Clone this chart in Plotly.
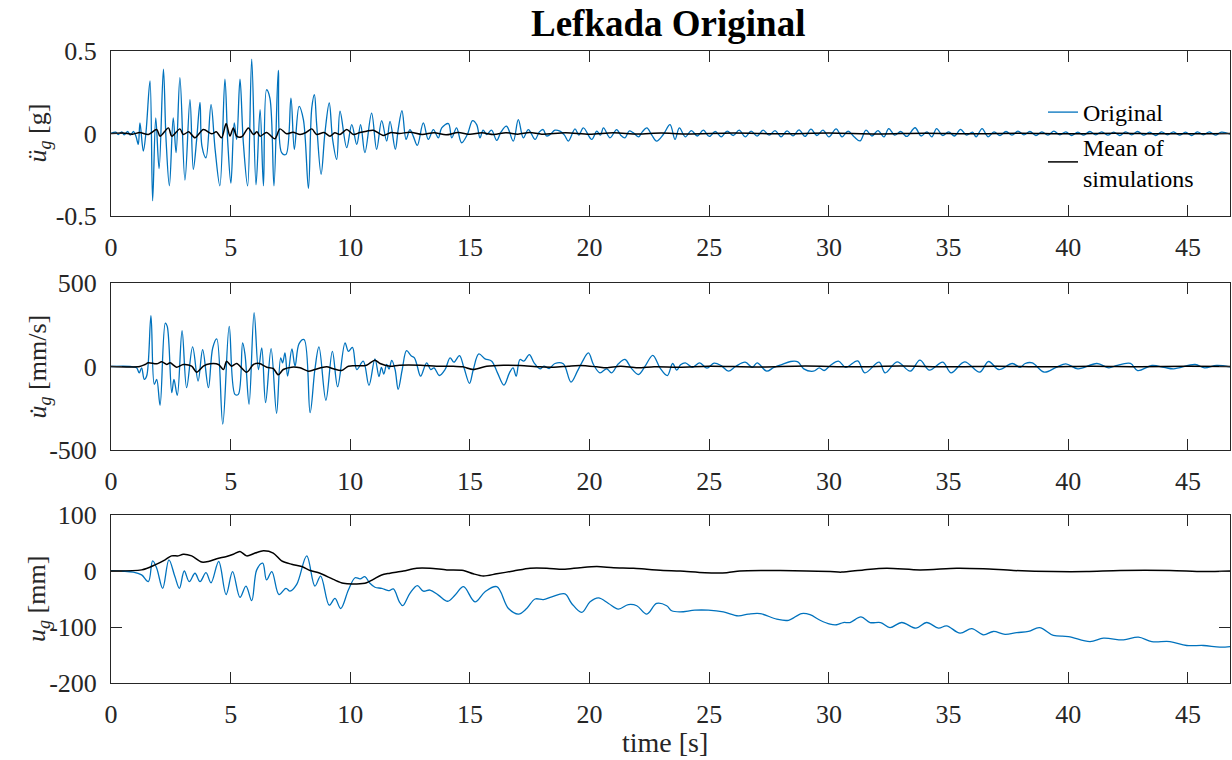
import plotly.graph_objects as go

# ---------------- data (time [s], value) ----------------
acc_orig = [
    (0, 0), (0.2, 0.008), (0.3, -0.006), (0.45, 0.01), (0.55, -0.008), (0.7, 0.012), (0.8, -0.01),
    (0.95, 0.012), (1.05, -0.02), (1.14, -0.066), (1.21, 0.064), (1.35, -0.106), (1.46, 0.004),
    (1.63, 0.319), (1.74, -0.408), (1.87, 0.094), (2.01, -0.213), (2.19, 0.39), (2.30, -0.036),
    (2.44, -0.317), (2.60, 0.094), (2.72, -0.116), (2.88, 0.339), (3.09, -0.283), (3.30, 0.205),
    (3.44, -0.217), (3.58, -0.036), (3.72, 0.189), (3.80, -0.076), (3.97, -0.147), (4.18, 0.175),
    (4.35, -0.096), (4.55, -0.317), (4.76, 0.329), (4.88, -0.056), (5.01, -0.301), (5.15, 0.064),
    (5.25, -0.036), (5.39, 0.329), (5.53, -0.056), (5.71, -0.317), (5.88, 0.45), (6.06, -0.311),
    (6.23, 0.145), (6.37, -0.317), (6.50, 0.265), (6.64, 0.215), (6.81, -0.317), (6.99, 0.382),
    (7.13, -0.116), (7.31, -0.127), (7.52, 0.215), (7.66, -0.096), (7.86, 0.165), (8.04, 0.084),
    (8.25, -0.333), (8.39, 0.155), (8.50, 0.235), (8.59, 0.064), (8.78, -0.247), (8.94, 0.004),
    (9.12, 0.185), (9.26, -0.036), (9.43, -0.157), (9.57, 0.135), (9.85, -0.086), (10.06, 0.054),
    (10.27, -0.066), (10.43, 0.054), (10.61, -0.116), (10.89, 0.124), (11.10, -0.096), (11.31, 0.078),
    (11.52, -0.046), (11.66, 0.074), (11.88, -0.096), (12.0, 0.024), (12.16, 0.139), (12.33, -0.036),
    (12.49, 0.024), (12.63, -0.016), (12.80, -0.072), (13.05, 0.064), (13.26, -0.036), (13.47, 0.024),
    (13.68, -0.026), (13.82, 0.034), (14.1, 0.06), (14.24, -0.026), (14.44, 0.034), (14.65, -0.056),
    (14.89, -0.006), (15.11, 0.078), (15.28, 0.054), (15.42, -0.026), (15.55, 0.02), (15.70, -0.006),
    (15.9, 0.02), (16.12, -0.042), (16.3, 0.01), (16.53, 0.044), (16.81, -0.046), (17.02, 0.084),
    (17.23, -0.026), (17.44, 0.024), (17.72, -0.036), (17.9, 0.01), (18.06, 0.024), (18.2, -0.015),
    (18.35, -0.006), (18.55, 0.02), (18.76, 0.014), (18.95, -0.01), (19.11, -0.046), (19.39, 0.028),
    (19.55, -0.01), (19.74, 0.034), (20.09, -0.036), (20.30, 0.014), (20.45, -0.01), (20.58, 0.034),
    (20.85, -0.026), (21.13, 0.024), (21.3, -0.01), (21.48, -0.026), (21.65, 0.015), (21.83, 0.004),
    (22.05, -0.02), (22.2, 0.01), (22.39, 0.034), (22.6, -0.01), (22.80, -0.046), (23.08, -0.006),
    (23.36, 0.054), (23.57, -0.036), (23.75, 0.034),
    (24.0, -0.02), (24.25, 0.018), (24.5, -0.015), (24.75, 0.02), (25.0, -0.018), (25.25, 0.012),
    (25.5, -0.02), (25.75, 0.015), (26.0, -0.012), (26.25, 0.02), (26.5, -0.02), (26.75, 0.014),
    (27.0, -0.016), (27.25, 0.02), (27.5, -0.01), (27.75, 0.018), (28.0, -0.02), (28.25, 0.016),
    (28.5, -0.014), (28.75, 0.022), (29.0, -0.018), (29.25, 0.026), (29.5, -0.012), (29.75, 0.02),
    (30.0, -0.02), (30.3, 0.028), (30.55, -0.02), (30.8, 0.015), (31.05, -0.02), (31.3, -0.045),
    (31.55, 0.02), (31.8, -0.015), (32.05, 0.018), (32.3, -0.02), (32.5, 0.03), (32.75, -0.01),
    (33.0, 0.012), (33.25, -0.018), (33.6, 0.035), (33.85, -0.015), (34.1, 0.01), (34.3, -0.02),
    (34.5, 0.03), (34.75, -0.012), (35.0, 0.01), (35.25, -0.015), (35.5, 0.025), (35.75, -0.01),
    (36.0, 0.008), (36.15, -0.02), (36.4, 0.03), (36.65, -0.02), (36.9, 0.01), (37.15, -0.012),
    (37.4, 0.012), (37.65, -0.01), (37.9, 0.014), (38.15, -0.008), (38.4, 0.012), (38.65, -0.012),
    (38.9, 0.01), (39.15, -0.01), (39.4, 0.014), (39.65, -0.008), (39.9, 0.01), (40.15, -0.012),
    (40.4, 0.008), (40.65, -0.01), (40.9, 0.012), (41.15, -0.008), (41.4, 0.01), (41.65, -0.01),
    (41.9, 0.008), (42.15, -0.012), (42.4, 0.01), (42.65, -0.008), (42.9, 0.012), (43.15, -0.01),
    (43.4, 0.008), (43.65, -0.012), (43.9, 0.01), (44.15, -0.008), (44.4, 0.01), (44.65, -0.01),
    (44.9, 0.008), (45.15, -0.012), (45.4, 0.01), (45.65, -0.008), (45.9, 0.01), (46.15, -0.01),
    (46.4, 0.008), (46.76, -0.004),
]

acc_mean = [
    (0, 0), (0.5, 0.003), (0.9, -0.004), (1.2, 0.006), (1.56, -0.006), (1.91, 0.024), (2.05, -0.016),
    (2.40, 0.034), (2.54, -0.016), (2.88, 0.028), (3.02, -0.006), (3.25, 0.01), (3.51, -0.026),
    (3.86, 0.024), (4.21, -0.002), (4.40, 0.01), (4.62, -0.026), (4.81, 0.06), (4.97, -0.016),
    (5.11, 0.034), (5.25, -0.016), (5.46, -0.02), (5.74, 0.034), (5.95, -0.006), (6.1, 0.01),
    (6.23, -0.016), (6.5, 0.006), (6.85, -0.032), (7.06, 0.028), (7.34, -0.002), (7.6, 0.008),
    (7.90, -0.006), (8.15, 0.006), (8.39, 0.028), (8.59, -0.006), (8.9, 0.006), (9.15, -0.016),
    (9.35, 0.004), (9.57, -0.006), (9.85, 0.024), (10.13, -0.006), (10.4, 0.006), (10.68, 0.014),
    (10.96, 0.02), (11.38, -0.012), (11.7, 0.006), (12.05, 0), (12.5, 0.008), (13.0, -0.006),
    (13.5, 0.005), (14.0, -0.008), (14.5, 0.006), (15.0, -0.005), (15.5, 0.004), (16.0, -0.006),
    (16.5, 0.005), (17.0, -0.004), (17.5, 0.006), (18.0, -0.004), (19.0, 0.004), (20.0, -0.005),
    (21.0, 0.004), (22.0, -0.003), (23.0, 0.003), (24.0, -0.003), (26.0, 0.003), (28.0, -0.002),
    (30.0, 0.003), (32.0, -0.003), (34.0, 0.002), (36.0, -0.002), (38.0, 0.002), (40.0, -0.002),
    (42.0, 0.002), (44.0, -0.002), (46.76, 0),
]

vel_orig = [
    (0, 0), (0.8, 0), (1.07, -8), (1.18, -38), (1.28, -8), (1.39, -77), (1.49, -57), (1.67, 304),
    (1.81, -107), (1.91, -77), (2.05, -232), (2.27, 260), (2.35, 240), (2.54, -157), (2.63, -77),
    (2.77, -173), (2.97, 214), (3.16, -127), (3.41, 117), (3.64, -87), (3.83, 101), (4.07, -127),
    (4.25, 111), (4.42, 165), (4.67, -345), (4.94, 240), (5.18, -167), (5.32, -167), (5.50, 141),
    (5.60, 71), (5.77, -226), (5.98, 323), (6.16, -18), (6.30, 111), (6.46, -216), (6.69, 107),
    (6.92, -280), (7.09, 52), (7.17, 22), (7.27, 81), (7.38, -58), (7.56, 105), (7.69, 2),
    (7.86, 137), (8.07, 161), (8.32, -276), (8.52, -18), (8.69, 117), (8.98, -202), (9.25, 91),
    (9.47, -121), (9.78, 141), (9.92, 91), (10.09, 115), (10.27, -18), (10.54, 32), (10.78, -113),
    (11.03, 46), (11.20, -60), (11.30, -5), (11.40, -45), (11.52, 12), (11.62, -15), (11.73, 37),
    (11.87, -18), (12.0, -137), (12.17, -18), (12.35, 95), (12.54, 65), (12.68, 52), (12.78, 12),
    (12.94, -58), (13.19, 22), (13.36, -18), (13.50, -8), (13.72, -54), (13.96, -18), (14.17, 52),
    (14.33, 26), (14.56, 65), (14.75, -8), (14.98, -101), (15.14, -18), (15.37, 75), (15.63, 46),
    (15.91, 32), (16.15, -38), (16.42, -111), (16.65, -38), (16.80, -8), (16.93, -58), (17.09, 42),
    (17.25, 32), (17.48, 71), (17.68, 22), (17.93, -14), (18.09, 2), (18.31, -12), (18.55, 18),
    (18.90, 16), (19.22, -93), (19.49, -28), (19.67, 22), (19.95, 81), (20.16, 12), (20.43, -38),
    (20.71, -14), (20.92, -38), (21.20, 16), (21.48, 42), (21.73, -8), (22.04, -48), (22.32, 2),
    (22.64, 67), (22.94, -8), (23.25, -54), (23.47, 18), (23.64, -22), (23.80, 10),
    (24.0, 22), (24.3, -5), (24.6, 22), (24.9, -10), (25.2, 20), (25.5, 5), (25.8, -28), (26.1, 0),
    (26.5, 26), (26.8, -5), (27.0, 22), (27.4, -28), (27.7, -5), (28.0, 10), (28.4, 30), (28.7, 28),
    (28.95, -14), (29.35, -28), (29.6, -8), (29.8, -24), (30.05, 5), (30.4, 32), (30.7, -5),
    (31.2, 34), (31.5, -38), (32.1, 26), (32.35, -38), (32.85, 28), (33.4, -28), (33.8, 38),
    (34.2, -22), (34.76, 26), (35.1, -38), (35.67, 28), (36.3, -34), (36.67, 30), (37.1, -18),
    (37.66, 18), (38.0, -5), (38.2, 18), (38.5, 22), (39.0, -34), (39.5, -5), (39.9, 16),
    (40.4, -14), (41.2, 18), (41.7, -8), (42.0, 5), (42.6, 18), (42.9, -24), (43.5, 6), (44.0, -5),
    (44.4, -14), (45.3, 12), (45.7, -8), (46.2, 6), (46.76, -2),
]

vel_mean = [
    (0, 0), (1.2, 0), (1.42, 12), (1.56, 22), (1.91, 16), (2.12, 28), (2.33, 12), (2.47, 22),
    (2.74, -4), (3.02, 12), (3.37, 2), (3.58, -34), (3.86, 2), (4.14, 16), (4.49, 12), (4.70, -18),
    (4.83, 32), (5.04, 2), (5.25, 18), (5.67, -34), (5.95, 12), (6.20, 18), (6.51, -4), (6.78, -12),
    (6.99, -50), (7.20, -18), (7.55, -4), (7.90, -8), (8.25, -28), (8.52, -18), (9.01, -2),
    (9.29, -14), (9.64, -24), (9.92, 2), (10.27, 4), (10.68, 8), (11.03, 38), (11.24, 18),
    (11.66, 2), (12.05, 8), (12.94, 8), (13.6, 2), (14.3, 2), (14.7, -2), (15.14, -18), (15.7, 2),
    (16.4, 8), (17.1, 6), (17.93, -2), (18.5, -4), (19.1, 2), (19.6, 6), (20.3, -2), (20.7, -8),
    (21.3, 2), (22.0, -8), (22.7, -2), (23.75, -4), (25, 2), (27, -3), (29, 3), (31, -2), (33, 3),
    (35, -2), (37, 2), (39, -2), (41, 2), (43, -1), (45, 1), (46.76, 0),
]

disp_orig = [
    (0, 0), (0.93, -2), (1.28, -7), (1.56, -19), (1.74, 18), (1.91, 5), (2.16, -31), (2.42, 20),
    (2.67, -10), (2.86, -31), (3.06, 0), (3.27, -19), (3.51, -4), (3.72, -19), (3.97, -3),
    (4.18, -21), (4.50, 17), (4.81, -42), (5.08, -1), (5.39, -47), (5.64, -27), (5.88, -53),
    (6.09, 2), (6.34, 14), (6.50, -16), (6.72, -1), (7.02, -42), (7.31, -31), (7.48, -36),
    (7.76, -24), (8.18, 27), (8.52, -27), (8.76, -9), (9.12, -61), (9.36, -49), (9.60, -67),
    (9.92, -34), (10.20, -12), (10.41, -14), (10.61, -10), (10.82, -22), (11.03, -29), (11.31, -31),
    (11.52, -34), (11.63, -35), (11.80, -32), (12.05, -55), (12.19, -62), (12.49, -40), (12.80, -26),
    (13.05, -36), (13.33, -34), (13.68, -43), (14.07, -54), (14.38, -43), (14.73, -28), (15.21, -55),
    (15.63, -37), (16.12, -28), (16.61, -67), (17.03, -77), (17.37, -67), (17.72, -50), (18.07, -51),
    (18.42, -46), (18.97, -41), (19.25, -58), (19.67, -74), (20.02, -55), (20.37, -48), (20.79, -58),
    (21.20, -68), (21.62, -60), (21.97, -62), (22.39, -77), (22.80, -58), (23.22, -62), (23.43, -71),
    (23.78, -73), (24.40, -70), (24.96, -70), (25.59, -73), (26.21, -80), (26.63, -77), (27.12, -76),
    (27.82, -86), (28.31, -88), (28.86, -76), (29.21, -78), (29.63, -88), (30.05, -95), (30.32, -96),
    (30.60, -92), (30.88, -92), (31.34, -82), (31.72, -92), (32.16, -92), (32.55, -101), (33.04, -92),
    (33.64, -102), (34.08, -92), (34.58, -102), (34.92, -98), (35.48, -111), (35.97, -103),
    (36.46, -114), (36.87, -108), (37.36, -113), (37.85, -110), (38.34, -108), (38.80, -101),
    (39.38, -115), (40.01, -117), (40.91, -126), (41.47, -120), (42.31, -123), (42.93, -118),
    (43.49, -126), (44.25, -126), (44.95, -133), (45.65, -133), (46.34, -136), (46.79, -135),
]

disp_mean = [
    (0, 0), (1.28, 2), (1.84, 11), (2.26, 20), (2.53, 27), (2.81, 27), (3.02, 30), (3.37, 27),
    (3.79, 16), (4.07, 17), (4.42, 22), (4.83, 26), (5.11, 30), (5.39, 35), (5.67, 27), (6.02, 32),
    (6.37, 36), (6.78, 32), (7.13, 18), (7.55, 12), (7.97, 8), (8.32, 1), (8.73, -4), (9.29, -15),
    (9.71, -22), (10.27, -23), (10.68, -21), (10.96, -15), (11.31, -7), (11.66, -4), (12.22, 0),
    (12.77, 5), (13.33, 5), (14.03, 2), (14.73, 1), (15.14, -5), (15.56, -9), (16.12, -5),
    (16.82, 0), (17.51, 5), (18.21, 5), (18.90, 3), (19.60, 6), (20.30, 8), (21.0, 6), (21.83, 5),
    (22.39, 3), (23.08, 1), (23.78, 0), (24.82, -3), (25.73, -3), (26.28, 0), (27.26, 1),
    (27.96, 1), (29.07, 0), (30.05, -1), (30.53, -2), (31.44, 2), (32.41, 5), (33.81, 2),
    (35.34, 5), (36.46, 4), (37.71, 1), (39.38, -1), (40.77, -1), (42.17, 1), (44.25, 1),
    (45.65, -1), (46.79, 0),
]

x_ticks = [0, 5, 10, 15, 20, 25, 30, 35, 40, 45]
acc_ticks = [-0.5, 0, 0.5]
acc_ticktext = ["-0.5", "0", "0.5"]
vel_ticks = [-500, 0, 500]
vel_ticktext = ["-500", "0", "500"]
disp_ticks = [-200, -100, 0, 100]
disp_ticktext = ["-200", "-100", "0", "100"]

series_names = ["Original", "Mean of<br>simulations"]
title_text = "Lefkada Original"
xlabel_text = "time [s]"
ylabels = ["<i>ü</i><sub><i>g</i></sub> [g]",
           "<i>u\u0307</i><sub><i>g</i></sub> [mm/s]",
           "<i>u</i><sub><i>g</i></sub> [mm]"]

# ---------------- figure ----------------
BLUE = "#0072BD"
BLACK = "#000000"
AX = "#262626"
FONT = "Liberation Serif"

W, H = 1232, 760
ML, MR, MT, MB = 111, 2, 51, 77
PH = H - MT - MB


def ydom(top_px, bot_px):
    return [1 - (bot_px - MT) / PH, 1 - (top_px - MT) / PH]


def unzip(pairs):
    return [p[0] for p in pairs], [p[1] for p in pairs]


fig = go.Figure()
panels = [(acc_orig, acc_mean, ""), (vel_orig, vel_mean, "2"), (disp_orig, disp_mean, "3")]
for i, (orig, mean, sfx) in enumerate(panels):
    tx, vx = unzip(orig)
    tm, vm = unzip(mean)
    fig.add_trace(go.Scatter(x=tx, y=vx, mode="lines", name=series_names[0],
                             line=dict(color=BLUE, width=1.3, shape="spline", smoothing=1.0),
                             xaxis="x" + sfx, yaxis="y" + sfx, showlegend=(i == 0)))
    fig.add_trace(go.Scatter(x=tm, y=vm, mode="lines", name=series_names[1],
                             line=dict(color=BLACK, width=1.5, shape="spline", smoothing=0.8),
                             xaxis="x" + sfx, yaxis="y" + sfx, showlegend=(i == 0)))

common_x = dict(range=[0, 46.76], tickvals=x_ticks, ticktext=[str(v) for v in x_ticks],
                ticks="inside", ticklen=11, tickwidth=1, tickcolor=AX, showline=True,
                linecolor=AX, linewidth=1, mirror="ticks", showgrid=False, zeroline=False,
                tickfont=dict(family=FONT, size=26, color=AX), ticklabelstandoff=8,
                domain=[0, 1])
common_y = dict(ticks="inside", ticklen=11, tickwidth=1, tickcolor=AX, showline=True,
                linecolor=AX, linewidth=1, mirror="ticks", showgrid=False, zeroline=False,
                tickfont=dict(family=FONT, size=26, color=AX), ticklabelstandoff=8)

doms = [ydom(51, 216), ydom(283, 450), ydom(515, 683)]

fig.update_layout(
    width=W, height=H, margin=dict(l=ML, r=MR, t=MT, b=MB),
    paper_bgcolor="white", plot_bgcolor="white",
    font=dict(family=FONT, color=AX),
    xaxis=dict(common_x, anchor="y"),
    xaxis2=dict(common_x, anchor="y2"),
    xaxis3=dict(common_x, anchor="y3"),
    yaxis=dict(common_y, range=[-0.5, 0.5], tickvals=acc_ticks, ticktext=acc_ticktext,
               domain=doms[0], anchor="x"),
    yaxis2=dict(common_y, range=[-500, 500], tickvals=vel_ticks, ticktext=vel_ticktext,
                domain=doms[1], anchor="x2"),
    yaxis3=dict(common_y, range=[-200, 100], tickvals=disp_ticks, ticktext=disp_ticktext,
                domain=doms[2], anchor="x3"),
    showlegend=True,
    legend=dict(x=(1043 - ML) / (W - ML - MR), y=1 - (90 - MT) / PH, xanchor="left", yanchor="top",
                bgcolor="rgba(0,0,0,0)", borderwidth=0,
                font=dict(family=FONT, size=24, color="black"), tracegroupgap=0),
)

ann = []
ann.append(dict(text="<b>" + title_text + "</b>", x=(668 - ML) / (W - ML - MR), y=1 + (MT - 24) / PH,
                xref="paper", yref="paper", showarrow=False, xanchor="center", yanchor="middle",
                font=dict(family=FONT, size=37, color="black")))
ann.append(dict(text=xlabel_text, x=(665 - ML) / (W - ML - MR), y=-(742 - (H - MB)) / PH,
                xref="paper", yref="paper", showarrow=False, xanchor="center", yanchor="middle",
                font=dict(family=FONT, size=28, color=AX)))
for lbl, (d0, d1) in zip(ylabels, doms):
    ann.append(dict(text=lbl, x=(38 - ML) / (W - ML - MR), y=(d0 + d1) / 2, xref="paper", yref="paper",
                    showarrow=False, textangle=-90, xanchor="center", yanchor="middle",
                    font=dict(family=FONT, size=26, color=AX)))
fig.update_layout(annotations=ann)

fig.write_html("out.html")
